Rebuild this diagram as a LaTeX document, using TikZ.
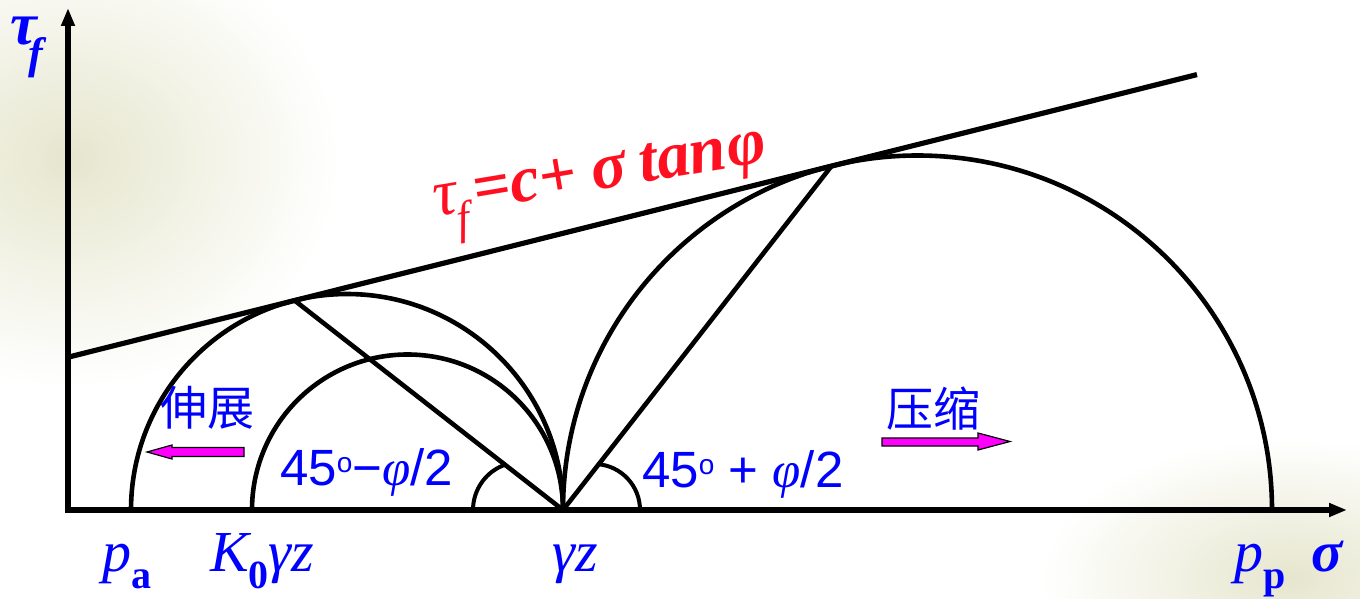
\documentclass[tikz,border=0pt]{standalone}
\usepackage{fontspec}
\setmainfont{Liberation Serif}
\newfontfamily\tnr{Liberation Serif}
\newfontfamily\sansf{Liberation Sans}
\newfontfamily\cjk{Noto Sans CJK SC}
\usetikzlibrary{arrows.meta,calc}
\definecolor{lblue}{RGB}{0,0,255}
\definecolor{lred}{RGB}{255,16,32}
\definecolor{lmag}{RGB}{255,0,255}
\definecolor{bgbeige}{RGB}{230,230,206}
\begin{document}
\begin{tikzpicture}[x=1pt,y=1pt,
  curve/.style={line width=4.6pt,black},
  smallarc/.style={line width=4pt,black},
  axisline/.style={line width=5.5pt,black},
  pinkarrow/.style={fill=lmag,draw=black,line width=1.2pt,line join=miter},
  bluelab/.style={text=lblue,inner sep=0pt},
  sym/.style={bluelab,font=\tnr\fontsize{58}{60}\selectfont\itshape},
  anglab/.style={bluelab,font=\sansf\fontsize{51}{51}\selectfont},
  cjklab/.style={bluelab,font=\cjk\fontsize{47}{47}\selectfont}]
\useasboundingbox (0,0) rectangle (1360,598);
\fill[white] (0,0) rectangle (1360,598);
% faint background texture
\shade[inner color=bgbeige,outer color=white] (70,440) ellipse (270 and 230);
\shade[inner color=bgbeige,outer color=white] (1290,20) ellipse (250 and 140);
% key points
\coordinate (O) at (68,88);
\coordinate (X) at (1347,88);
\coordinate (Y) at (68,590);
\coordinate (PA) at (131,88);
\coordinate (K0) at (252,88);
\coordinate (G) at (563,88);
\coordinate (PP) at (1272,88);
\coordinate (C1) at (347,88);
\coordinate (C2) at (917.5,88);
\coordinate (T1) at ($(C1)+(104.05:216)$);
\coordinate (T2) at ($(C2)+(104.05:354.5)$);
\coordinate (L0) at (68,240.8);
\coordinate (L1) at (1197,523.4);
\coordinate (SA1) at (473,88);
\coordinate (SA2) at (640,88);
% axes
\draw[axisline,{Triangle[length=18pt,width=13pt]}-{Triangle[length=18pt,width=13pt]}] (Y) -- (O) -- (X);
% Mohr circles
\draw[curve] (G) arc[start angle=0,end angle=180,radius=216];
\draw[curve] (G) arc[start angle=0,end angle=180,radius=155.5];
\draw[curve] (PP) arc[start angle=0,end angle=180,radius=354.5];
% strength envelope
\draw[curve,line width=5.2pt] (L0) -- (L1);
% failure planes
\draw[curve] (G) -- (T1);
\draw[curve] (G) -- (T2);
% angle arcs
\draw[smallarc] (SA1) arc[start angle=180,end angle=108,radius=48];
\draw[smallarc] (SA2) arc[start angle=0,end angle=86,radius=46];
% pink arrows
\draw[pinkarrow] (147,146) -- (172,153) -- (172,150.5) -- (244,150.5) -- (244,141.5) -- (172,141.5) -- (172,139) -- cycle;
\draw[pinkarrow] (1010,156.5) -- (978,165) -- (978,160) -- (882,160) -- (882,152) -- (978,152) -- (978,148) -- cycle;
% labels
\node[bluelab,anchor=base west,font=\tnr\fontsize{60}{60}\selectfont\bfseries\itshape] (tauf) at (10,553) {τ\kern-0.14em\raisebox{-0.4em}{\fontsize{44}{44}\selectfont f}};
\node[anchor=base west,inner sep=0pt,rotate=9.5,text=lred,font=\tnr\fontsize{66}{66}\selectfont\bfseries\itshape] (law) at (436,381) {{\mdseries τ}\kern-0.05em\raisebox{-0.32em}{\fontsize{46}{46}\selectfont\mdseries f}\kern0.12em=c+\kern0.22em σ\kern0.2em tan\kern0.02em φ};
\node[cjklab] (ext) at (207,190) {伸展};
\node[cjklab] (comp) at (933,189) {压缩};
\node[anglab,anchor=base west] (am) at (280,113) {45\raisebox{13pt}{\fontsize{28}{28}\selectfont o}−{\tnr\itshape φ}/2};
\node[anglab,anchor=base west] (ap) at (642,111) {45\raisebox{13pt}{\fontsize{28}{28}\selectfont o} + {\tnr\itshape φ}/2};
\node[sym,anchor=base west] (pa) at (102,27) {p\raisebox{-0.3em}{\fontsize{40}{40}\selectfont\upshape\bfseries a}};
\node[sym,anchor=base west] (k0) at (210,27) {K\raisebox{-0.3em}{\fontsize{40}{40}\selectfont\upshape\bfseries 0}γz};
\node[sym,anchor=base west] (gz) at (552,27) {γz};
\node[sym,anchor=base west] (pp) at (1234,27) {p\raisebox{-0.3em}{\fontsize{40}{40}\selectfont\upshape\bfseries p}\hspace{26pt}{\bfseries σ}};
\end{tikzpicture}
\end{document}
